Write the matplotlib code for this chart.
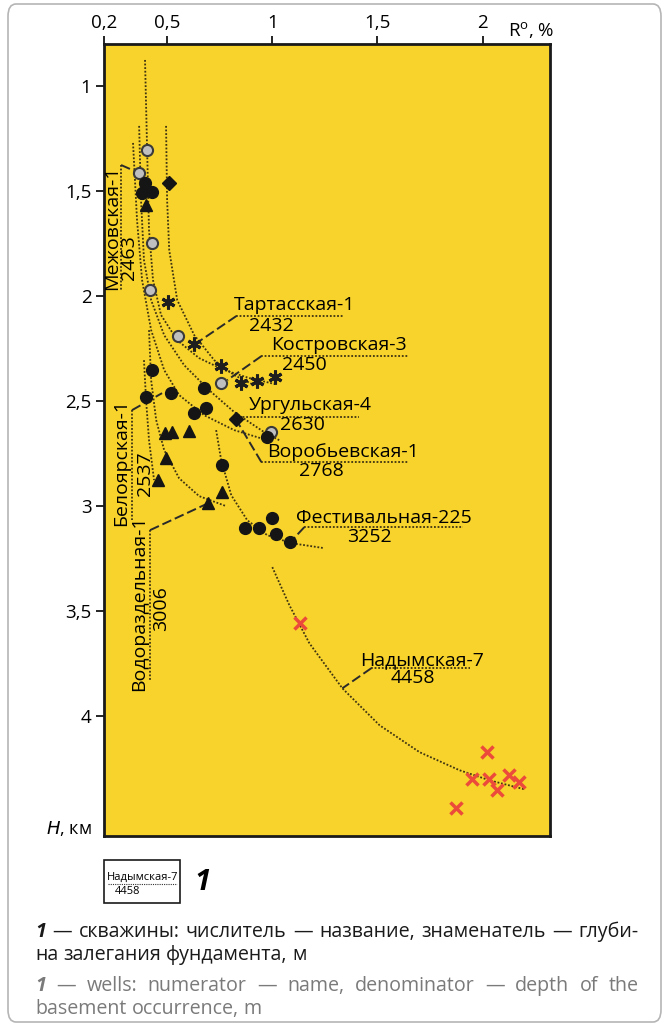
import matplotlib
matplotlib.use("Agg")
import matplotlib.pyplot as plt
from matplotlib.patches import FancyBboxPatch, Rectangle

plt.rcParams['font.family'] = ['Open Sans', 'DejaVu Sans']
plt.rcParams['mathtext.default'] = 'regular'

# ---- data (R0 %, H km) ----
gray_x = [0.405, 0.367, 0.429, 0.419, 0.552, 0.757, 0.995]
gray_y = [1.305, 1.414, 1.748, 1.971, 2.190, 2.414, 2.645]

black_x = [0.395, 0.381, 0.429, 0.429, 0.400, 0.519, 0.629, 0.686, 0.676,
           0.762, 0.871, 0.938, 1.000, 1.019, 1.086, 0.976]
black_y = [1.462, 1.510, 1.505, 2.352, 2.481, 2.462, 2.557, 2.533, 2.438,
           2.805, 3.105, 3.105, 3.057, 3.133, 3.171, 2.671]

diam_x = [0.510, 0.829]
diam_y = [1.462, 2.586]

star_x = [0.505, 0.629, 0.757, 0.852, 0.929, 1.014]
star_y = [2.029, 2.229, 2.333, 2.414, 2.405, 2.386]

tri_x = [0.400, 0.490, 0.524, 0.605, 0.495, 0.457, 0.762, 0.695]
tri_y = [1.567, 2.652, 2.648, 2.643, 2.771, 2.876, 2.933, 2.986]

cross_x = [1.133, 2.019, 1.948, 2.029, 2.124, 2.171, 2.067, 1.871]
cross_y = [3.557, 4.171, 4.300, 4.300, 4.281, 4.314, 4.352, 4.438]

# trend curves
curves = [
    ([0.395, 0.405, 0.414, 0.433, 0.471, 0.548, 0.652, 0.771, 0.890, 1.014],
     [0.876, 1.305, 1.686, 1.924, 2.090, 2.210, 2.295, 2.352, 2.390, 2.419]),
    ([0.367, 0.376, 0.390, 0.424, 0.486, 0.581, 0.700, 0.819, 0.962, 1.033],
     [1.190, 1.543, 1.829, 2.019, 2.186, 2.329, 2.448, 2.552, 2.648, 2.686]),
    ([0.338, 0.357, 0.381, 0.424, 0.486, 0.557, 0.676, 0.819, 0.976],
     [1.271, 1.638, 1.924, 2.162, 2.352, 2.471, 2.567, 2.638, 2.686]),
    ([0.495, 0.500, 0.510, 0.548, 0.629, 0.724, 0.819, 0.914],
     [1.190, 1.543, 1.781, 2.019, 2.186, 2.305, 2.376, 2.424]),
    ([0.414, 0.424, 0.448, 0.486, 0.557, 0.652, 0.781],
     [2.162, 2.400, 2.590, 2.733, 2.867, 2.952, 3.000]),
    ([0.733, 0.757, 0.805, 0.881, 0.976, 1.090, 1.248],
     [2.638, 2.781, 2.948, 3.067, 3.138, 3.176, 3.200]),
    ([0.390, 0.400, 0.414, 0.438],
     [2.305, 2.495, 2.686, 2.876]),
    ([1.000, 1.081, 1.176, 1.333, 1.510, 1.700, 1.890, 2.033, 2.200],
     [3.290, 3.471, 3.652, 3.867, 4.043, 4.171, 4.257, 4.305, 4.348]),
]

# horizontal well labels: name, depth, name pos, depth pos, bar x-range, bar y, leader end
wells_h = [
    ("Тартасская-1", "2432", (1.105, 2.043), (0.995, 2.143), (0.829, 1.343), 2.095, (0.619, 2.238)),
    ("Костровская-3", "2450", (1.319, 2.233), (1.152, 2.329), (0.948, 1.652), 2.286, (0.786, 2.400)),
    ("Ургульская-4", "2630", (1.181, 2.519), (1.143, 2.614), (0.843, 1.414), 2.576, None),
    ("Воробьевская-1", "2768", (1.338, 2.743), (1.233, 2.833), (0.948, 1.652), 2.790, (0.829, 2.590)),
    ("Фестивальная-225", "3252", (1.529, 3.057), (1.462, 3.148), (1.152, 1.905), 3.100, (1.086, 3.171)),
    ("Надымская-7", "4458", (1.710, 3.733), (1.667, 3.819), (1.471, 1.938), 3.771, (1.333, 3.867)),
]
# vertical well labels: name, depth, name pos, depth pos, bar x, bar y-range, leader end
wells_v = [
    ("Межовская-1", "2463", (0.240, 1.676), (0.319, 1.819), 0.281, (1.376, 1.971), (0.367, 1.414)),
    ("Белоярская-1", "2537", (0.283, 2.790), (0.395, 2.843), 0.333, (2.543, 3.067), (0.476, 2.462)),
    ("Водораздельная-1", "3006", (0.367, 3.462), (0.471, 3.486), 0.419, (3.114, 3.829), (0.695, 2.986)),
]

xticks = [0.2, 0.5, 1, 1.5, 2]
xlabels = ["0,2", "0,5", "1", "1,5", "2"]
yticks = [1, 1.5, 2, 2.5, 3, 3.5, 4]
ylabels = ["1", "1,5", "2", "2,5", "3", "3,5", "4"]

caption = [
    ("— скважины: числитель — название, знаменатель — глуби-", True, "#1a1a1a"),
    ("на залегания фундамента, м", False, "#1a1a1a"),
    ("— wells: numerator — name, denominator — depth of the", True, "#7a7a7a"),
    ("basement occurrence, m", False, "#7a7a7a"),
]

W, H = 669, 1026
fig = plt.figure(figsize=(W / 100, H / 100), dpi=100)
renderer = fig.canvas.get_renderer()

# outer rounded frame
fig.patches.append(FancyBboxPatch((8 / W, 4 / H), 653 / W, 1018 / H,
                                  boxstyle="round,pad=0,rounding_size=0.012",
                                  transform=fig.transFigure, fill=False,
                                  ec="#b5b5b5", lw=1.2))

ax = fig.add_axes([104 / W, 1 - 836 / H, 446 / W, 792 / H])
ax.set_facecolor("#F7D32C")
ax.set_xlim(0.2, 2.32)
ax.set_ylim(4.57, 0.8)
for s in ax.spines.values():
    s.set_linewidth(2)
    s.set_color("#1a1a1a")

ax.xaxis.tick_top()
ax.set_xticks(xticks)
ax.set_xticklabels(xlabels)
ax.set_yticks(yticks)
ax.set_yticklabels(ylabels)
ax.tick_params(axis="both", labelsize=13.5, length=6, width=1.2, direction="out", pad=3)

dot_col = "#3f3310"
for cx, cy in curves:
    ax.plot(cx, cy, ls=(0, (1, 1)), color=dot_col, lw=1.3, zorder=2)

ax.plot(gray_x, gray_y, "o", ms=8, mfc="#bfbfbf", mec="#3a3a3a", mew=1.5, zorder=4)
ax.plot(black_x, black_y, "o", ms=8.5, color="#151515", zorder=5)
ax.plot(diam_x, diam_y, "D", ms=7.5, color="#151515", zorder=5)
ax.plot(tri_x, tri_y, "^", ms=8.5, color="#151515", zorder=5)
ax.plot(star_x, star_y, marker=(6, 2, 0), ls="none", ms=10, mew=2.2, color="#1e1e1e", zorder=5)
ax.plot(cross_x, cross_y, "x", ms=8, mew=2.5, color="#EC4A3A", zorder=5)

lab_fs = 14
for name, depth, npos, dpos, (bx0, bx1), by, lead in wells_h:
    ax.text(*npos, name, fontsize=lab_fs, ha="center", va="center", zorder=6)
    ax.text(*dpos, depth, fontsize=lab_fs, ha="center", va="center", zorder=6)
    ax.plot([bx0, bx1], [by, by], ls=(0, (1, 1)), color=dot_col, lw=1.3, zorder=3)
    if lead is not None:
        ax.plot([bx0, lead[0]], [by, lead[1]], ls=(0, (5, 2)), color="#2a2a2a", lw=1.4, zorder=3)

for name, depth, npos, dpos, bx, (by0, by1), lead in wells_v:
    ax.text(*npos, name, fontsize=lab_fs, ha="center", va="center", rotation=90, zorder=6)
    ax.text(*dpos, depth, fontsize=lab_fs, ha="center", va="center", rotation=90, zorder=6)
    ax.plot([bx, bx], [by0, by1], ls=(0, (1, 1)), color=dot_col, lw=1.3, zorder=3)
    ax.plot([bx, lead[0]], [by0, lead[1]], ls=(0, (5, 2)), color="#2a2a2a", lw=1.4, zorder=3)

# axis titles
fig.text(508 / W, 1 - 30 / H, "R$^{o}$, %", fontsize=13.5, ha="left", va="center")
fig.text(46 / W, 1 - 828 / H, "$\\it{H}$, км", fontsize=13, ha="left", va="center")

# legend sample
fig.patches.append(Rectangle((104 / W, 1 - 903 / H), 76 / W, 43 / H,
                             transform=fig.transFigure, fill=False, ec="#1a1a1a", lw=1.2))
fig.text(143 / W, 1 - 877 / H, "Надымская-7", fontsize=8, ha="center", va="center")
fig.text(128 / W, 1 - 892 / H, "4458", fontsize=8, ha="center", va="center")
fig.lines.append(plt.Line2D([108 / W, 177 / W], [1 - 884 / H, 1 - 884 / H], transform=fig.transFigure,
                            ls=(0, (1, 1)), color="#333333", lw=0.8))
fig.text(194 / W, 1 - 882 / H, "1", fontsize=21, fontweight="bold", style="italic", ha="left", va="center")

# caption, first line of each paragraph justified
cap_fs = 14.1
x_left, x_right = 35, 639
line_y = [932, 955, 986, 1009]
space_w = fig.text(0, 0, " ", fontsize=cap_fs).get_window_extent(renderer).width
for (txt, lead_num, col), yy in zip(caption, line_y):
    words = txt.split(" ")
    if lead_num:
        words = ["1"] + words
    arts = []
    for i, w in enumerate(words):
        bold = lead_num and i == 0
        t = fig.text(0, 1 - yy / H, w, fontsize=cap_fs, ha="left", va="center", color=col,
                     fontweight="bold" if bold else "normal", style="italic" if bold else "normal")
        arts.append(t)
    widths = [a.get_window_extent(renderer).width for a in arts]
    gap = space_w
    if lead_num:
        gap = max(3.0, (x_right - x_left - sum(widths)) / (len(words) - 1))
    xx = x_left
    for a, wd in zip(arts, widths):
        a.set_x(xx / W)
        xx += wd + gap

fig.savefig("out.png", dpi=100)
